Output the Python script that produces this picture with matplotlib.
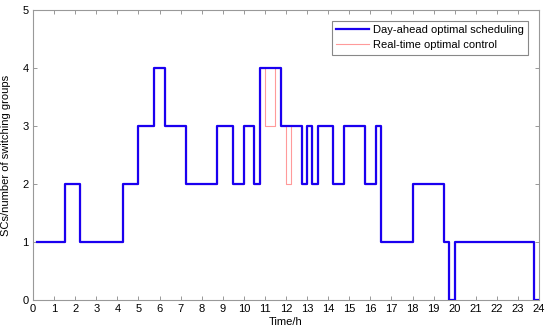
import matplotlib
matplotlib.use("Agg")
import matplotlib.pyplot as plt
import numpy as np

plt.rcParams['font.family'] = ['Liberation Sans', 'DejaVu Sans']

# Day-ahead optimal scheduling (step changes, value holds until next time)
da_times = [0.2, 1.5, 2.25, 4.25, 5, 5.75, 6.25, 7.25, 8.75, 9.5, 10, 10.5, 10.75,
            11.75, 12.75, 13, 13.25, 13.5, 14.25, 14.75, 15.75, 16.25, 16.5, 18,
            19.5, 19.75, 20, 23.75, 24]
da_values = [1, 2, 1, 2, 3, 4, 3, 2, 3, 2, 3, 2, 4,
             3, 2, 3, 2, 3, 2, 3, 2, 3, 1, 2,
             1, 0, 1, 0, 0]

# Real-time optimal control
rt_times = [0.2, 1.5, 2.25, 4.25, 5, 5.75, 6.25, 7.25, 8.75, 9.5, 10, 10.5, 10.75,
            11, 11.5, 11.75, 12, 12.25, 12.75, 13, 13.25, 13.5, 14.25, 14.75, 15.75,
            16.25, 16.5, 18, 19.5, 19.75, 20, 23.75, 24]
rt_values = [1, 2, 1, 2, 3, 4, 3, 2, 3, 2, 3, 2, 4,
             3, 4, 3, 2, 3, 2, 3, 2, 3, 2, 3, 2,
             3, 1, 2, 1, 0, 1, 0, 0]

x_ticks = list(range(0, 25))
y_ticks = [0, 1, 2, 3, 4, 5]

fig = plt.figure(figsize=(5.5, 3.34), dpi=100)
ax = fig.add_axes([33/550, 34/334, 506/550, 290/334])

ax.step(rt_times, rt_values, where='post', color='#ff9a9a', linewidth=0.8,
        label='Real-time optimal control', zorder=2)
ax.step(da_times, da_values, where='post', color='#1a00f0', linewidth=1.6,
        label='Day-ahead optimal scheduling', zorder=3)

ax.set_xlim(0, 24)
ax.set_ylim(0, 5)
ax.set_xticks(x_ticks)
ax.set_yticks(y_ticks)
ax.tick_params(direction='in', top=True, right=True, length=3, width=0.6,
               color='#888888', labelsize=8, pad=3)
for s in ax.spines.values():
    s.set_color('#999999')
    s.set_linewidth(0.8)

ax.set_xlabel('Time/h', fontsize=8, labelpad=2)
ax.set_ylabel('SCs/number of switching groups', fontsize=8, labelpad=8)

handles, labels = ax.get_legend_handles_labels()
leg = ax.legend(handles[::-1], labels[::-1], loc='upper right',
                bbox_to_anchor=(528.3/550, 1 - 20.7/334), bbox_transform=fig.transFigure,
                borderaxespad=0, fontsize=8, fancybox=False, handlelength=2.9,
                handletextpad=0.4, borderpad=0.4, labelspacing=0.45, framealpha=1)
leg.get_frame().set_edgecolor('#888888')
leg.get_frame().set_linewidth(0.8)

fig.savefig('out.png', dpi=100)
